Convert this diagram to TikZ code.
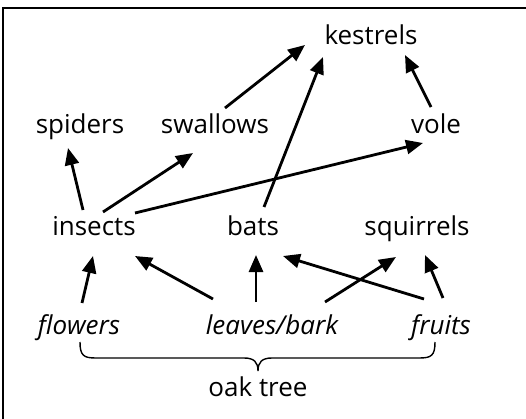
\documentclass[tikz,border=0pt]{standalone}
\usepackage{fontspec}
\setmainfont{Open Sans}
\usetikzlibrary{arrows.meta}
\tikzset{
  lbl/.style={anchor=base, inner sep=0pt, font=\fontsize{26}{31}\selectfont},
  part/.style={lbl, font=\fontsize{26}{31}\selectfont\itshape},
  arr/.style={line width=2.8pt, -{Triangle[length=17pt,width=14pt]}},
  frame/.style={line width=2pt},
  bracestyle/.style={line width=1.4pt}
}
\begin{document}
\begin{tikzpicture}[x=1pt,y=-1pt]
  \useasboundingbox (0,0) rectangle (526,419);
  % frame: only the top and left edges are inside the page
  \draw[frame] (3,419) -- (3,8) -- (527,8);

  % food web members
  \node[lbl] (kestrels) at (371,45) {kestrels};
  \node[lbl] (spiders) at (80,134) {spiders};
  \node[lbl] (swallows) at (215,134) {swallows};
  \node[lbl] (vole) at (436,134) {vole};
  \node[lbl] (insects) at (94,236) {insects};
  \node[lbl] (bats) at (253,236) {bats};
  \node[lbl] (squirrels) at (417,236) {squirrels};
  \node[part] (flowers) at (79,334) {flowers};
  \node[part] (leaves) at (272,334) {leaves/bark};
  \node[part] (fruits) at (441,334) {fruits};
  \node[lbl] (oak) at (258,396) {oak tree};

  % who eats whom
  \draw[arr] ([shift={(10,-26)}]swallows.base) -- ([shift={(-66,0)}]kestrels.base);
  \draw[arr] ([shift={(11,-29)}]bats.base) -- ([shift={(-48,12)}]kestrels.base);
  \draw[arr] ([shift={(-5,-27)}]vole.base) -- ([shift={(34,10)}]kestrels.base);
  \draw[arr] ([shift={(-11,-26)}]insects.base) -- ([shift={(-12,14)}]spiders.base);
  \draw[arr] ([shift={(9,-24)}]insects.base) -- ([shift={(-22,19)}]swallows.base);
  \draw[arr] ([shift={(41,-23)}]insects.base) -- ([shift={(-13,9)}]vole.base);
  \draw[arr] ([shift={(3,-31)}]flowers.base) -- ([shift={(-1,20)}]insects.base);
  \draw[arr] ([shift={(-59,-35)}]leaves.base) -- ([shift={(41,20)}]insects.base);
  \draw[arr] ([shift={(-16,-32)}]leaves.base) -- ([shift={(3,19)}]bats.base);
  \draw[arr] ([shift={(53,-32)}]leaves.base) -- ([shift={(-21,21)}]squirrels.base);
  \draw[arr] ([shift={(-17,-35)}]fruits.base) -- ([shift={(30,20)}]bats.base);
  \draw[arr] ([shift={(2,-36)}]fruits.base) -- ([shift={(8,19)}]squirrels.base);

  % brace gathering the parts of the oak
  \draw[bracestyle] (80,342) .. controls (80,356) and (84,358) .. (96,358)
    -- (244,358) .. controls (254,358) and (258,362) .. (258,371)
    .. controls (258,362) and (262,358) .. (272,358)
    -- (419,358) .. controls (431,358) and (435,356) .. (435,342);
\end{tikzpicture}
\end{document}
